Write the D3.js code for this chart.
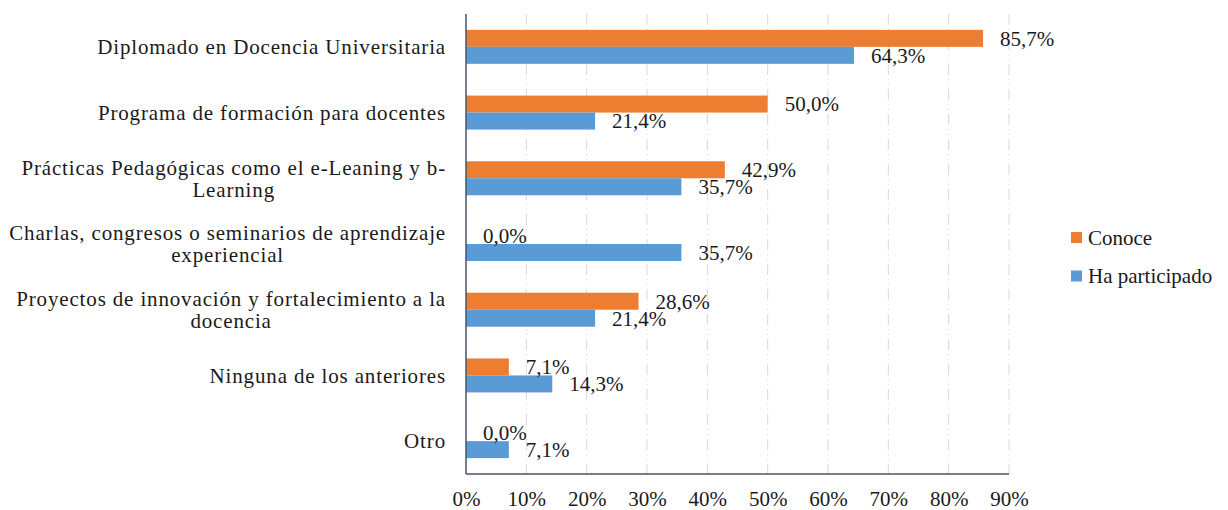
<!DOCTYPE html>
<html>
<head>
<meta charset="utf-8">
<script src="https://cdn.jsdelivr.net/npm/d3@7"></script>
<style>
  body { margin: 0; background: #fff; }
</style>
</head>
<body>
<div id="chart"></div>
<script>
// horizontal grouped bars, Conoce vs Ha participado

var categories = [
  "Diplomado en Docencia Universitaria",
  "Programa de formación para docentes",
  "Prácticas Pedagógicas como el e-Leaning y b-Learning",
  "Charlas, congresos o seminarios de aprendizaje experiencial",
  "Proyectos de innovación y fortalecimiento a la docencia",
  "Ninguna de los anteriores",
  "Otro"
];
var seriesNames = ["Conoce", "Ha participado"];
var conoce = [85.7, 50.0, 42.9, 0.0, 28.6, 7.1, 0.0];
var participado = [64.3, 21.4, 35.7, 35.7, 21.4, 14.3, 7.1];
var tickValues = [0, 10, 20, 30, 40, 50, 60, 70, 80, 90];
var colors = ["#ED7D31", "#5B9BD5"];

var totwidth = 1228, totheight = 510,
    plot = {left: 466, right: 1009, top: 14, bottom: 474},
    fontFamily = "Liberation Serif",
    fontSize = 21,
    textColor = "#1a1a1a";

var rows = categories.map(function(c, i) {
  return {name: c, values: [conoce[i], participado[i]]};
});

var svg = d3.select("#chart").append("svg")
    .attr("width", totwidth)
    .attr("height", totheight);

var xScale = d3.scaleLinear()
    .domain([0, 90])
    .range([plot.left, plot.right]);

var yScale = d3.scaleBand()
    .domain(categories)
    .range([plot.top, plot.bottom])
    .paddingInner(0.483)
    .paddingOuter(0.2415);

var ySub = d3.scaleBand()
    .domain([0, 1])
    .range([0, yScale.bandwidth()]);

// helper so every text gets the same look
function styleText(sel) {
  sel.style("font-family", fontFamily)
     .style("font-size", fontSize + "px")
     .style("fill", textColor);
}

// gridlines (dash-dot)
svg.append("g")
    .selectAll("line")
    .data(tickValues.slice(1))
    .enter().append("line")
      .attr("x1", function(d) { return xScale(d); })
      .attr("x2", function(d) { return xScale(d); })
      .attr("y1", plot.top)
      .attr("y2", plot.bottom)
      .attr("stroke", "#d9d9d9")
      .attr("stroke-width", 1)
      .attr("stroke-dasharray", "11,4,1,4,1,4");

// bars
var groups = svg.append("g").selectAll(".row")
    .data(rows)
    .enter().append("g")
      .attr("class", "row")
      .attr("transform", function(d) { return "translate(0," + yScale(d.name) + ")"; });

groups.selectAll("rect")
    .data(function(d) { return d.values; })
    .enter().append("rect")
      .attr("x", xScale(0))
      .attr("y", function(d, i) { return ySub(i); })
      .attr("width", function(d) { return xScale(d) - xScale(0); })
      .attr("height", ySub.bandwidth())
      .attr("fill", function(d, i) { return colors[i]; });

// value labels
groups.selectAll(".valueLabel")
    .data(function(d) { return d.values; })
    .enter().append("text")
      .attr("class", "valueLabel")
      .attr("x", function(d) { return xScale(d) + 17; })
      .attr("y", function(d, i) { return ySub(i) + ySub.bandwidth() / 2; })
      .attr("dy", "0.35em")
      .call(styleText)
      .text(function(d) { return d.toFixed(1).replace(".", ",") + "%"; });

// axis lines
svg.append("line")
    .attr("x1", plot.left).attr("x2", plot.left)
    .attr("y1", plot.top).attr("y2", plot.bottom)
    .attr("stroke", "#44546A").attr("stroke-width", 1.5);
svg.append("line")
    .attr("x1", plot.left).attr("x2", plot.right)
    .attr("y1", plot.bottom).attr("y2", plot.bottom)
    .attr("stroke", "#44546A").attr("stroke-width", 1.5);

// x tick labels
var xAxis = svg.append("g")
    .attr("transform", "translate(0," + plot.bottom + ")")
    .call(d3.axisBottom(xScale)
      .tickValues(tickValues)
      .tickSize(0)
      .tickPadding(17)
      .tickFormat(function(d) { return d + "%"; }));
xAxis.select(".domain").remove();
xAxis.attr("font-family", null).attr("font-size", null);
xAxis.selectAll("text").call(styleText);

// category labels, wrapped and centred as a block right-aligned to the axis
var labelRight = 446, maxWidth = 450, lineHeight = 22;
var catLabels = svg.append("g").selectAll(".catLabel")
    .data(rows)
    .enter().append("text")
      .attr("class", "catLabel")
      .call(styleText)
      .style("letter-spacing", "0.85px")
      .attr("text-anchor", "middle");

catLabels.each(function(d) {
  var el = d3.select(this), node = this;
  var tokens = d.name.match(/[^\s-]+-?/g);
  var lines = [], cur = "";
  tokens.forEach(function(t) {
    var sep = (cur === "" || cur.slice(-1) === "-") ? "" : " ";
    var test = cur + sep + t;
    el.text(test);
    if (cur !== "" && node.getComputedTextLength() > maxWidth) {
      lines.push(cur);
      cur = t;
    } else {
      cur = test;
    }
  });
  lines.push(cur);
  var widths = lines.map(function(l) { el.text(l); return node.getComputedTextLength(); });
  el.text(null);
  var blockW = d3.max(widths);
  var cx = labelRight - blockW / 2;
  var cy = yScale(d.name) + yScale.bandwidth() / 2;
  var y0 = cy - (lines.length - 1) * lineHeight / 2;
  lines.forEach(function(l, i) {
    el.append("tspan")
      .attr("x", cx)
      .attr("y", y0 + i * lineHeight)
      .attr("dy", "0.35em")
      .text(l);
  });
});

// legend
var legend = svg.append("g").selectAll(".legendItem")
    .data(seriesNames)
    .enter().append("g")
      .attr("class", "legendItem")
      .attr("transform", function(d, i) { return "translate(1071," + (237.5 + i * 38.5) + ")"; });
legend.append("rect")
    .attr("x", 0).attr("y", -5.5)
    .attr("width", 11).attr("height", 11)
    .attr("fill", function(d, i) { return colors[i]; });
legend.append("text")
    .attr("x", 17)
    .attr("dy", "0.35em")
    .call(styleText)
    .text(function(d) { return d; });
</script>
</body>
</html>
